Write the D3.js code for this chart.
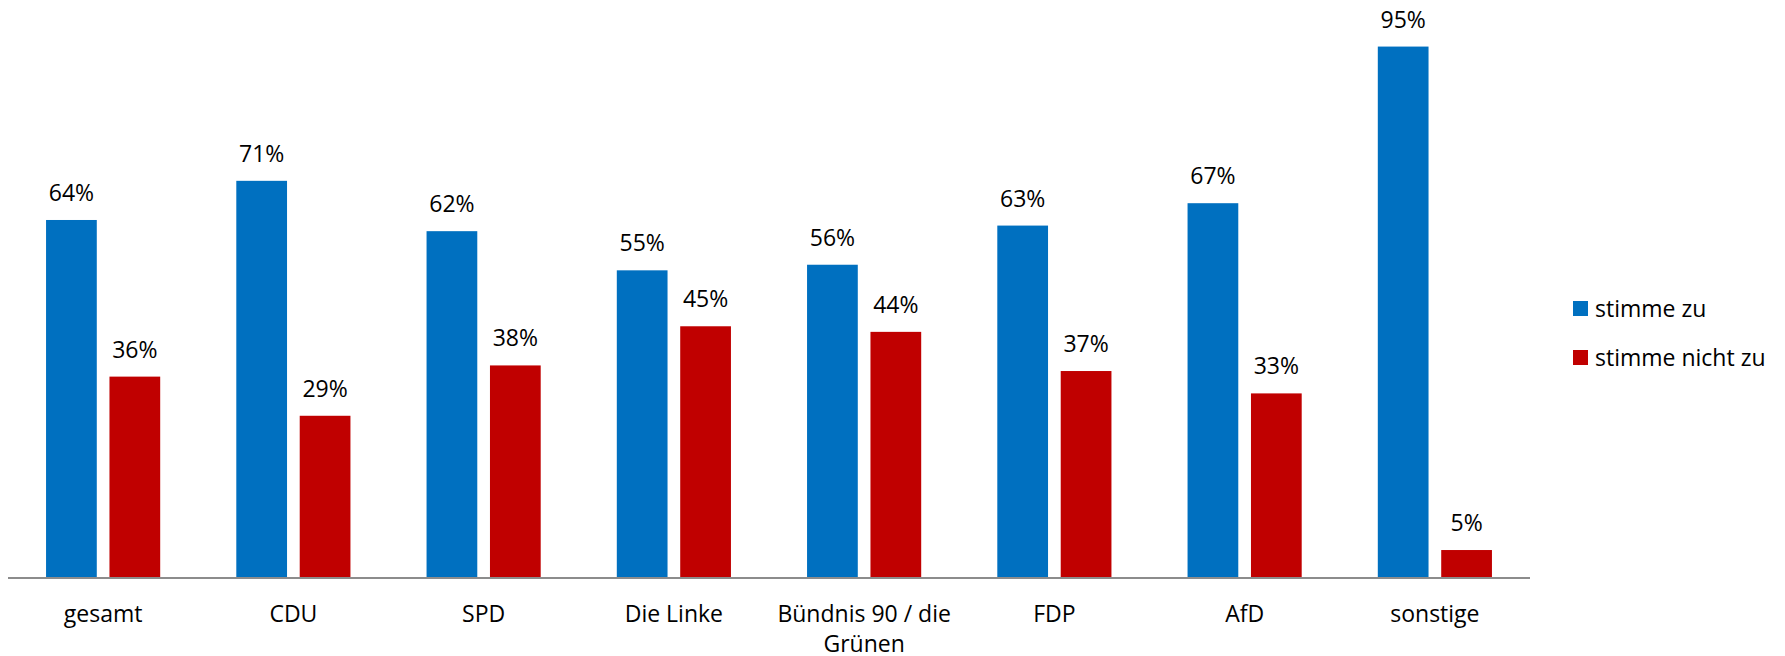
<!DOCTYPE html>
<html lang="de">
<head>
  <meta charset="UTF-8">
  <title>Zustimmung nach Partei</title>
  <script src="https://d3js.org/d3.v7.min.js"></script>
  <style>
    body { margin: 0; background: #fff; }
    text { font-family: 'Open Sans', sans-serif; fill: #000; font-size: 23px; }
    .axis-line { stroke: #8c8c8c; stroke-width: 2; }
  </style>
</head>
<body>
  <svg id="chart" width="1785" height="656"></svg>
  <script>
    // data
    const categories = ['gesamt', 'CDU', 'SPD', 'Die Linke', 'Bündnis 90 / die Grünen', 'FDP', 'AfD', 'sonstige'];
    const series = ['stimme zu', 'stimme nicht zu'];
    const agree = [64, 71, 62, 55, 56, 63, 67, 95];
    const disagree = [36, 29, 38, 45, 44, 37, 33, 5];
    const colors = ['#0070C0', '#C00000'];

    const svg = d3.select('#chart');
    const baseY = 578;

    const x0 = d3.scaleBand().domain(categories).range([8, 1530]);
    const bw = x0.bandwidth();
    const x1 = d3.scaleBand().domain(series).range([bw * 0.2, bw * 0.8]).paddingInner(0.2);
    const y = d3.scaleLinear().domain([0, 100]).range([baseY, baseY - 559.4]);
    const color = d3.scaleOrdinal().domain(series).range(colors);

    const rows = categories.map((c, i) => ({ cat: c, values: [
      { key: series[0], v: agree[i] },
      { key: series[1], v: disagree[i] }
    ] }));

    const groups = svg.append('g')
      .selectAll('g')
      .data(rows)
      .enter()
      .append('g')
      .attr('transform', (d) => `translate(${x0(d.cat)},0)`);

    groups.selectAll('rect')
      .data((d) => d.values)
      .enter()
      .append('rect')
      .attr('x', (d) => x1(d.key))
      .attr('y', (d) => y(d.v))
      .attr('width', x1.bandwidth())
      .attr('height', (d) => baseY - y(d.v))
      .attr('fill', (d) => color(d.key));

    // value labels above bars
    groups.selectAll('text.val')
      .data((d) => d.values)
      .enter()
      .append('text')
      .attr('class', 'val')
      .attr('x', (d) => x1(d.key) + x1.bandwidth() / 2)
      .attr('y', (d) => y(d.v) - 19)
      .attr('text-anchor', 'middle')
      .text((d) => d.v + '%');

    // x axis line
    svg.append('line')
      .attr('class', 'axis-line')
      .attr('x1', x0.range()[0])
      .attr('x2', x0.range()[1])
      .attr('y1', baseY)
      .attr('y2', baseY);

    // category labels, wrapped when too wide for the band
    const catLabels = svg.append('g')
      .selectAll('text')
      .data(categories)
      .enter()
      .append('text')
      .attr('x', (d) => x0(d) + bw / 2)
      .attr('y', 622)
      .attr('text-anchor', 'middle');

    catLabels.each(function (d) {
      const t = d3.select(this);
      const lines = d === 'Bündnis 90 / die Grünen' ? ['Bündnis 90 / die', 'Grünen'] : [d];
      lines.forEach((ln, i) => {
        t.append('tspan')
          .attr('x', x0(d) + bw / 2)
          .attr('dy', i === 0 ? 0 : 30)
          .text(ln);
      });
    });

    // legend
    const legend = svg.append('g')
      .selectAll('g')
      .data(series)
      .enter()
      .append('g')
      .attr('transform', (d, i) => `translate(1573,${301 + i * 49})`);

    legend.append('rect')
      .attr('width', 15)
      .attr('height', 15)
      .attr('fill', (d) => color(d));

    legend.append('text')
      .attr('x', 22)
      .attr('y', 16)
      .text((d) => d);
  </script>
</body>
</html>
